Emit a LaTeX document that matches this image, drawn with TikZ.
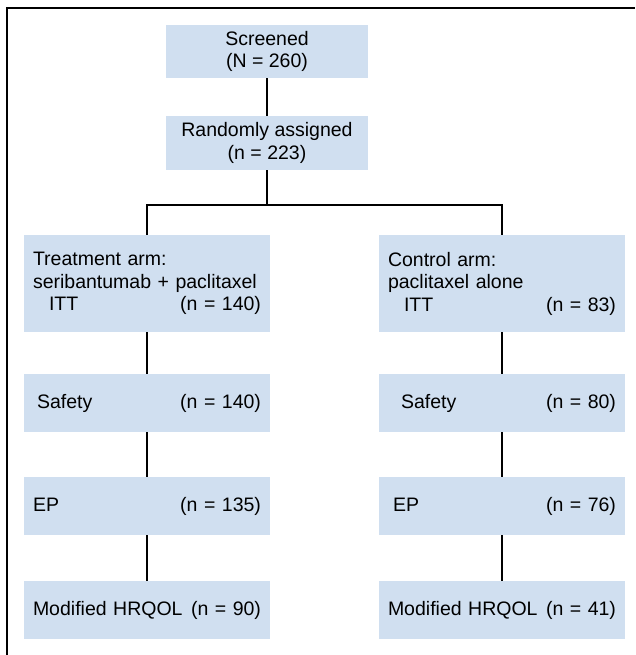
\documentclass[tikz,border=0pt]{standalone}
\usepackage{fontspec}
\setmainfont{Liberation Sans}
\usepackage{tikz}
\definecolor{boxblue}{RGB}{208,223,240}

\begin{document}
\begin{tikzpicture}[
  x=1pt, y=-1pt,
  every node/.style={font=\fontsize{19.5}{22.5}\selectfont},
  topbox/.style={fill=boxblue, inner sep=0pt, minimum width=202pt, minimum height=53pt, align=center},
  armbox/.style={fill=boxblue, inner xsep=9pt, inner ysep=0pt, text width=228pt, minimum height=58pt, align=left},
  link/.style={line width=2.7pt, line join=miter},
]
\useasboundingbox (0,0) rectangle (635,655);
\draw[line width=2pt] (7,655) -- (7,8) -- (635,8);

\node[topbox] (screened) at (267,51.5) {Screened\\(N = 260)};
\node[topbox, minimum height=54pt] (rand) at (267,143) {Randomly assigned\\(n = 223)};
\coordinate (split) at (267,205);

\node[armbox, minimum height=97pt] (treat) at (147,283.5) {Treatment arm:\\seribantumab + paclitaxel\\\hspace*{16pt}ITT\hfill(n = 140)};
\node[armbox] (tsafety) at (147,403) {\hspace*{4pt}Safety\hfill(n = 140)};
\node[armbox] (tep) at (147,506) {EP\hfill(n = 135)};
\node[armbox] (thrqol) at (147,610) {Modified HRQOL\hfill(n = 90)};

\node[armbox, minimum height=97pt] (ctrl) at (502,283.5) {Control arm:\\paclitaxel alone\\\hspace*{16pt}ITT\hfill(n = 83)};
\node[armbox] (csafety) at (502,403) {\hspace*{13pt}Safety\hfill(n = 80)};
\node[armbox] (cep) at (502,506) {\hspace*{5pt}EP\hfill(n = 76)};
\node[armbox] (chrqol) at (502,610) {Modified HRQOL\hfill(n = 41)};

\draw[link] (screened) -- (rand);
\draw[link] (rand) -- (split);
\draw[link] (treat.north) |- (split) -| (ctrl.north);
\foreach \a/\b in {treat/tsafety, tsafety/tep, tep/thrqol, ctrl/csafety, csafety/cep, cep/chrqol}
  \draw[link] (\a) -- (\b);
\end{tikzpicture}
\end{document}
